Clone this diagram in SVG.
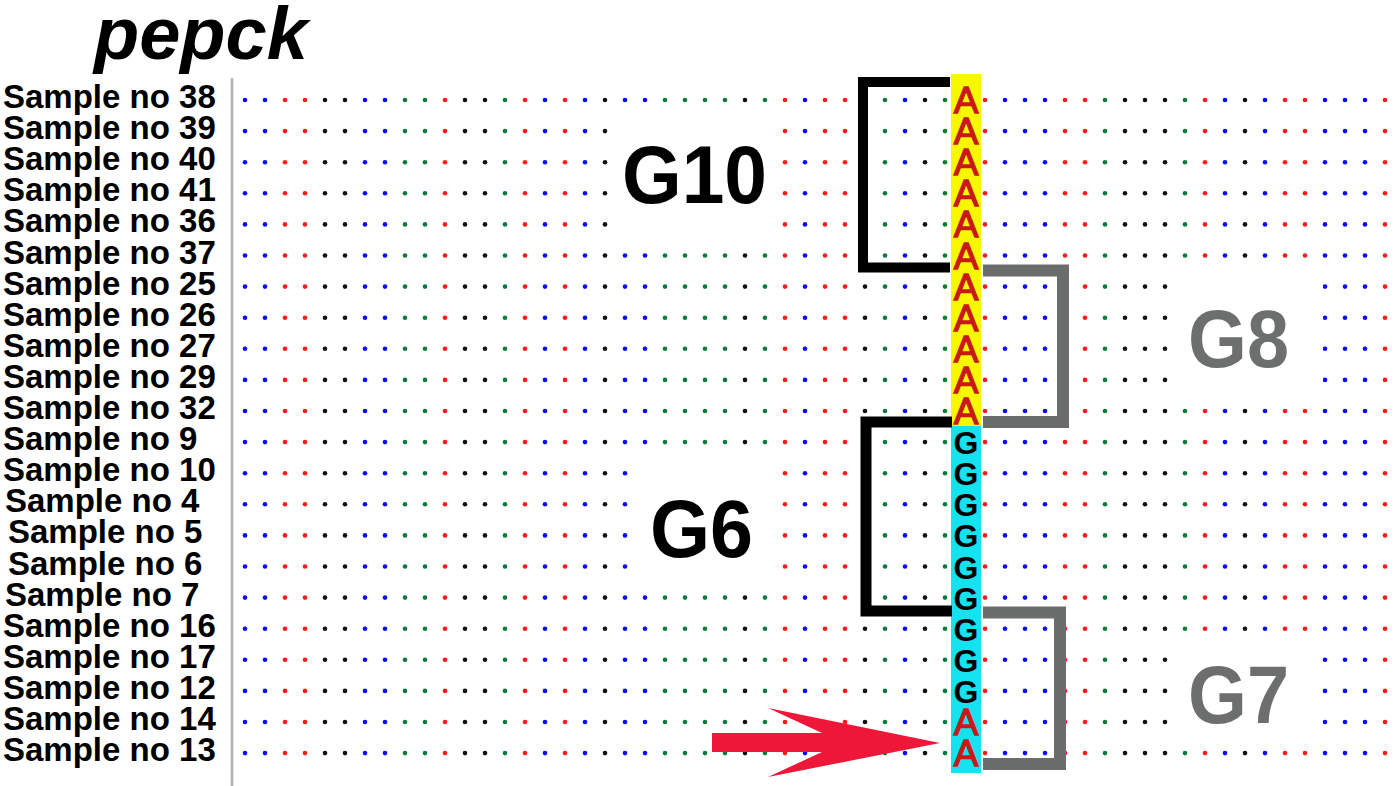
<svg xmlns="http://www.w3.org/2000/svg" xmlns:xlink="http://www.w3.org/1999/xlink" width="1400" height="786" viewBox="0 0 1400 786">
<style>
.b{fill:#0a0aff}.r{fill:#ff1a1a}.k{fill:#111}.g{fill:#0b7a3a}
.lbl{font-family:"Liberation Sans",Arial,sans-serif;font-weight:bold;font-size:33px;fill:#000}
.big{font-family:"Liberation Sans",Arial,sans-serif;font-weight:bold;font-size:82px}
.la{font-family:"Liberation Sans",Arial,sans-serif;font-size:37px;fill:#c81818;stroke:#c81818;stroke-width:1.3px;text-anchor:middle}
.lg{font-family:"Liberation Sans",Arial,sans-serif;font-weight:bold;font-size:32px;fill:#000;text-anchor:middle}
.brk{fill:none;stroke-linejoin:miter;stroke-linecap:butt}
</style>
<defs>
<g id="row">
<circle class="b" cx="245" cy="0" r="2.3"/><circle class="b" cx="265" cy="0" r="2.3"/><circle class="r" cx="285" cy="0" r="2.3"/><circle class="r" cx="305" cy="0" r="2.3"/><circle class="k" cx="325" cy="0" r="2.3"/><circle class="k" cx="345" cy="0" r="2.3"/><circle class="b" cx="365" cy="0" r="2.3"/><circle class="b" cx="385" cy="0" r="2.3"/><circle class="g" cx="405" cy="0" r="2.3"/><circle class="g" cx="425" cy="0" r="2.3"/><circle class="r" cx="445" cy="0" r="2.3"/><circle class="k" cx="465" cy="0" r="2.3"/><circle class="k" cx="485" cy="0" r="2.3"/><circle class="g" cx="505" cy="0" r="2.3"/><circle class="r" cx="525" cy="0" r="2.3"/><circle class="b" cx="545" cy="0" r="2.3"/><circle class="r" cx="565" cy="0" r="2.3"/><circle class="b" cx="585" cy="0" r="2.3"/><circle class="k" cx="605" cy="0" r="2.3"/><circle class="b" cx="625" cy="0" r="2.3"/><circle class="b" cx="645" cy="0" r="2.3"/><circle class="g" cx="665" cy="0" r="2.3"/><circle class="g" cx="685" cy="0" r="2.3"/><circle class="g" cx="705" cy="0" r="2.3"/><circle class="g" cx="725" cy="0" r="2.3"/><circle class="k" cx="745" cy="0" r="2.3"/><circle class="g" cx="765" cy="0" r="2.3"/><circle class="r" cx="785" cy="0" r="2.3"/><circle class="b" cx="805" cy="0" r="2.3"/><circle class="r" cx="825" cy="0" r="2.3"/><circle class="r" cx="845" cy="0" r="2.3"/><circle class="k" cx="865" cy="0" r="2.3"/><circle class="g" cx="885" cy="0" r="2.3"/><circle class="b" cx="905" cy="0" r="2.3"/><circle class="k" cx="925" cy="0" r="2.3"/><circle class="g" cx="945" cy="0" r="2.3"/><circle class="r" cx="985" cy="0" r="2.3"/><circle class="b" cx="1005" cy="0" r="2.3"/><circle class="b" cx="1025" cy="0" r="2.3"/><circle class="b" cx="1045" cy="0" r="2.3"/><circle class="r" cx="1065" cy="0" r="2.3"/><circle class="r" cx="1085" cy="0" r="2.3"/><circle class="g" cx="1105" cy="0" r="2.3"/><circle class="k" cx="1125" cy="0" r="2.3"/><circle class="k" cx="1145" cy="0" r="2.3"/><circle class="k" cx="1165" cy="0" r="2.3"/><circle class="g" cx="1185" cy="0" r="2.3"/><circle class="r" cx="1205" cy="0" r="2.3"/><circle class="b" cx="1225" cy="0" r="2.3"/><circle class="k" cx="1245" cy="0" r="2.3"/><circle class="b" cx="1265" cy="0" r="2.3"/><circle class="r" cx="1285" cy="0" r="2.3"/><circle class="r" cx="1305" cy="0" r="2.3"/><circle class="b" cx="1325" cy="0" r="2.3"/><circle class="b" cx="1345" cy="0" r="2.3"/><circle class="b" cx="1365" cy="0" r="2.3"/><circle class="r" cx="1385" cy="0" r="2.3"/>
</g>
</defs>
<rect width="1400" height="786" fill="#fff"/>

<g id="alignment-dots">
<use xlink:href="#row" y="100"/><use xlink:href="#row" y="131.1"/><use xlink:href="#row" y="162.2"/><use xlink:href="#row" y="193.3"/><use xlink:href="#row" y="224.4"/><use xlink:href="#row" y="255.5"/><use xlink:href="#row" y="286.6"/><use xlink:href="#row" y="317.7"/><use xlink:href="#row" y="348.8"/><use xlink:href="#row" y="379.9"/><use xlink:href="#row" y="411"/><use xlink:href="#row" y="442.1"/><use xlink:href="#row" y="473.2"/><use xlink:href="#row" y="504.3"/><use xlink:href="#row" y="535.4"/><use xlink:href="#row" y="566.5"/><use xlink:href="#row" y="597.6"/><use xlink:href="#row" y="628.7"/><use xlink:href="#row" y="659.8"/><use xlink:href="#row" y="690.9"/><use xlink:href="#row" y="722"/><use xlink:href="#row" y="753.1"/>
<rect x="614" y="116" width="161" height="124" fill="#fff"/>
<rect x="634" y="457" width="141" height="125" fill="#fff"/>
<rect x="1175" y="271" width="148" height="124" fill="#fff"/>
<rect x="1175" y="644" width="140" height="93" fill="#fff"/>
</g>

<g id="snp-column">
<rect x="951" y="74" width="30" height="352" fill="#f7f700"/>
<rect x="951" y="426" width="30" height="347" fill="#14e2ef"/>
<text class="la" x="966" y="113">A</text><text class="la" x="966" y="144.1">A</text><text class="la" x="966" y="175.2">A</text><text class="la" x="966" y="206.3">A</text><text class="la" x="966" y="237.4">A</text><text class="la" x="966" y="268.5">A</text><text class="la" x="966" y="299.6">A</text><text class="la" x="966" y="330.7">A</text><text class="la" x="966" y="361.8">A</text><text class="la" x="966" y="392.9">A</text><text class="la" x="966" y="424">A</text>
<text class="lg" x="966" y="454.1">G</text><text class="lg" x="966" y="485.2">G</text><text class="lg" x="966" y="516.3">G</text><text class="lg" x="966" y="547.4">G</text><text class="lg" x="966" y="578.5">G</text><text class="lg" x="966" y="609.6">G</text><text class="lg" x="966" y="640.7">G</text><text class="lg" x="966" y="671.8">G</text><text class="lg" x="966" y="702.9">G</text>
<text class="la" x="966" y="735">A</text><text class="la" x="966" y="766.1">A</text>
</g>

<g id="connectors">
<path class="brk" d="M950 82 H863 V267.5 H950" stroke="#000" stroke-width="10"/>
<path class="brk" d="M952 422 H866 V611 H952" stroke="#000" stroke-width="11"/>
<path class="brk" d="M983 270.5 H1063 V422 H983" stroke="#6b6d6d" stroke-width="12"/>
<path class="brk" d="M983 612.5 H1060 V764 H983" stroke="#6b6d6d" stroke-width="12"/>
<polygon points="712,733 822,733 768,708 940,743 768,777 822,752 712,752" fill="#ee1639"/>
</g>

<g id="group-G10"><text class="big" x="622" y="203" fill="#000" textLength="145" lengthAdjust="spacingAndGlyphs">G10</text></g>
<g id="group-G6"><text class="big" x="650" y="557" fill="#000" textLength="103" lengthAdjust="spacingAndGlyphs">G6</text></g>
<g id="group-G8"><text class="big" x="1188" y="367" fill="#6d6f6f" textLength="101" lengthAdjust="spacingAndGlyphs">G8</text></g>
<g id="group-G7"><text class="big" x="1188" y="723" fill="#6d6f6f" textLength="101" lengthAdjust="spacingAndGlyphs">G7</text></g>

<g id="sample-labels">
<text class="lbl" x="3" y="108">Sample no 38</text>
<text class="lbl" x="3" y="139.1">Sample no 39</text>
<text class="lbl" x="3" y="170.2">Sample no 40</text>
<text class="lbl" x="3" y="201.3">Sample no 41</text>
<text class="lbl" x="3" y="232.4">Sample no 36</text>
<text class="lbl" x="3" y="263.5">Sample no 37</text>
<text class="lbl" x="3" y="294.6">Sample no 25</text>
<text class="lbl" x="3" y="325.7">Sample no 26</text>
<text class="lbl" x="3" y="356.8">Sample no 27</text>
<text class="lbl" x="3" y="387.9">Sample no 29</text>
<text class="lbl" x="3" y="419">Sample no 32</text>
<text class="lbl" x="3" y="450.1">Sample no 9</text>
<text class="lbl" x="3" y="481.2">Sample no 10</text>
<text class="lbl" x="5" y="512.3">Sample no 4</text>
<text class="lbl" x="8" y="543.4">Sample no 5</text>
<text class="lbl" x="8" y="574.5">Sample no 6</text>
<text class="lbl" x="5" y="605.6">Sample no 7</text>
<text class="lbl" x="3" y="636.7">Sample no 16</text>
<text class="lbl" x="3" y="667.8">Sample no 17</text>
<text class="lbl" x="3" y="698.9">Sample no 12</text>
<text class="lbl" x="3" y="730">Sample no 14</text>
<text class="lbl" x="3" y="761.1">Sample no 13</text>
</g>

<g id="title"><text x="94" y="59" font-family="'Liberation Sans',Arial,sans-serif" font-weight="bold" font-style="italic" font-size="74" fill="#000">pepck</text></g>
<line x1="232" y1="78" x2="232" y2="786" stroke="#b0b0b0" stroke-width="2.5"/>
</svg>
